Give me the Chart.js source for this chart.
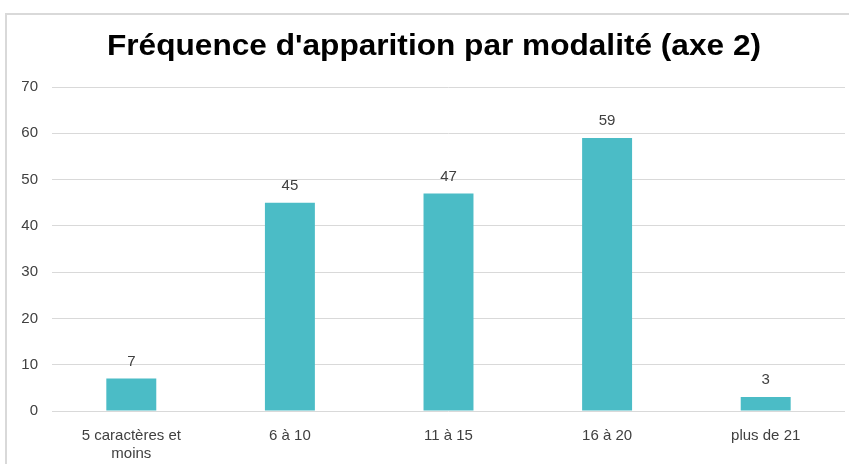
<!DOCTYPE html>
<html>
<head>
<meta charset="utf-8">
<script src="https://cdn.jsdelivr.net/npm/chart.js@4.4.1/dist/chart.umd.min.js"></script>
<style>
  html, body { margin: 0; padding: 0; background: #fff; }
  #frame { position: absolute; left: 5px; top: 13px; width: 900px; height: 500px; border: 2px solid #d9d9d9; box-sizing: border-box; }
  #wrap { position: absolute; left: 0; top: 0; width: 849px; height: 464px; }
</style>
</head>
<body>
<div id="frame"></div>
<div id="wrap"><canvas id="c" width="849" height="464"></canvas></div>
<script>
const categories = [["5 caractères et", "moins"], "6 à 10", "11 à 15", "16 à 20", "plus de 21"];
const values = [7, 45, 47, 59, 3];
const yTicks = [0, 10, 20, 30, 40, 50, 60, 70];
const titleText = "Fréquence d'apparition par modalité (axe 2)";

const FONT = "'Liberation Sans', Arial, sans-serif";

const valueLabels = {
  id: 'valueLabels',
  afterDatasetsDraw(chart) {
    const ctx = chart.ctx;
    const meta = chart.getDatasetMeta(0);
    ctx.save();
    ctx.font = "15px " + FONT;
    ctx.fillStyle = "#404040";
    ctx.textAlign = "center";
    ctx.textBaseline = "middle";
    meta.data.forEach((bar, i) => {
      ctx.fillText(String(values[i]), bar.x, bar.y - 17);
    });
    ctx.restore();
  }
};

// Title drawn slightly widened to match the reference's bold face
const wideTitle = {
  id: 'wideTitle',
  afterDraw(chart) {
    const ctx = chart.ctx;
    ctx.save();
    ctx.font = "bold 30px " + FONT;
    ctx.fillStyle = "#000";
    ctx.textAlign = "center";
    ctx.textBaseline = "alphabetic";
    const w = ctx.measureText(titleText).width;
    const sx = 654 / w;
    ctx.translate(434, 55);
    ctx.scale(sx, 1);
    ctx.fillText(titleText, 0, 0);
    ctx.restore();
  }
};

new Chart(document.getElementById('c'), {
  type: 'bar',
  data: {
    labels: categories,
    datasets: [{
      data: values,
      backgroundColor: '#4BBCC6',
      borderWidth: 0,
      barPercentage: 1,
      categoryPercentage: 0.315
    }]
  },
  options: {
    responsive: false,
    animation: false,
    devicePixelRatio: 1,
    layout: { padding: { left: 6, right: 4, top: 87, bottom: 0 } },
    plugins: {
      legend: { display: false },
      tooltip: { enabled: false },
      title: { display: false, text: titleText }
    },
    scales: {
      x: {
        grid: { display: false, drawTicks: false },
        border: { display: false },
        ticks: { color: '#404040', font: { family: FONT, size: 15 }, padding: 16, maxRotation: 0, autoSkip: false },
        afterFit(s) { s.height = 53; }
      },
      y: {
        min: 0, max: 70,
        afterBuildTicks(s) { s.ticks = yTicks.map(v => ({ value: v })); },
        grid: { color: '#d9d9d9', lineWidth: 1, drawTicks: false },
        border: { display: false },
        ticks: { color: '#404040', font: { family: FONT, size: 15 }, padding: 14 },
        afterFit(s) { s.width = 46; }
      }
    }
  },
  plugins: [valueLabels, wideTitle]
});
</script>
</body>
</html>
